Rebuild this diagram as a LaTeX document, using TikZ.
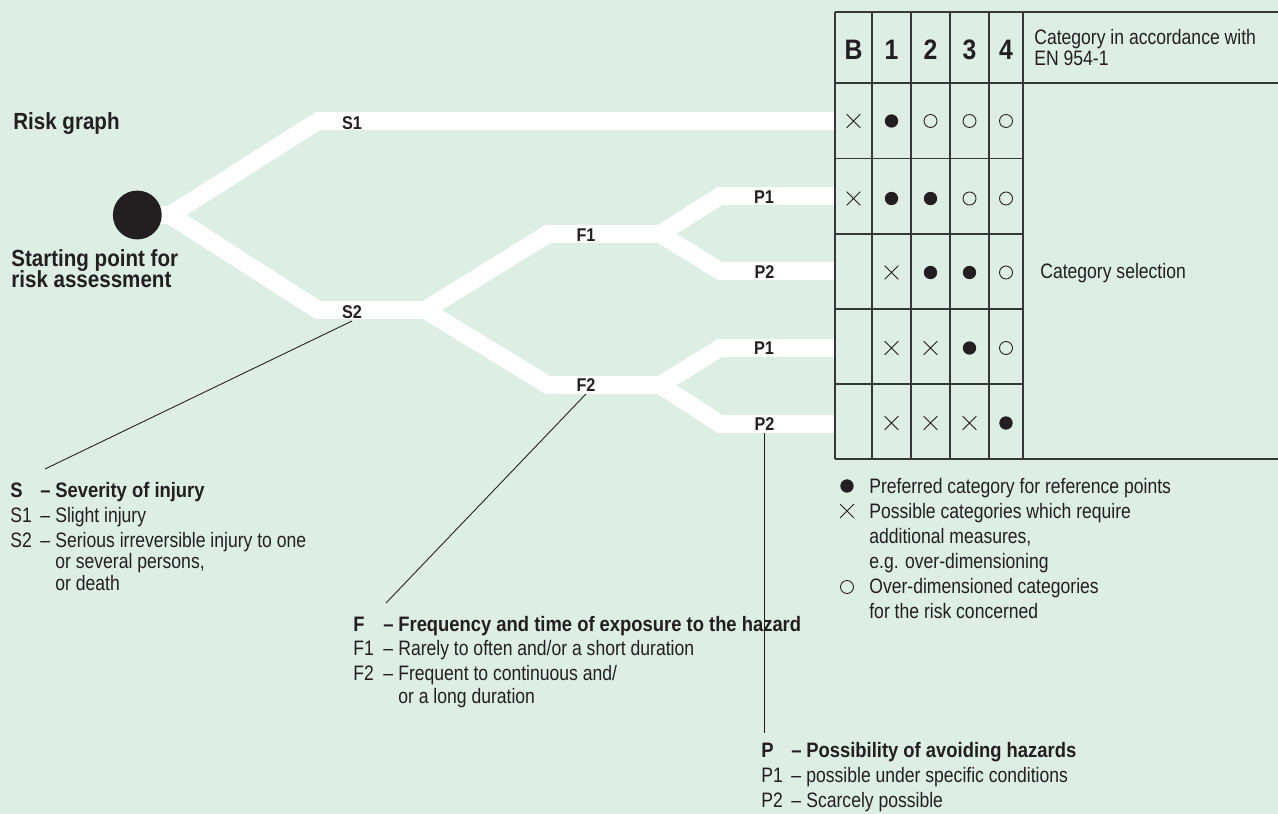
\documentclass[tikz,border=0pt]{standalone}
\usepackage{fontspec}
\setmainfont{Liberation Sans}[FakeStretch=0.84]
\newfontfamily\headfont{Liberation Sans}[FakeStretch=0.88]
\usetikzlibrary{shapes.misc,calc,positioning}
\definecolor{bgmint}{RGB}{221,238,229}
\definecolor{ink}{RGB}{35,31,32}
\definecolor{rule}{RGB}{55,55,55}

% one legend line: key, dash, text
\newcommand{\legline}[6]{%
  \node[#6] (#1k) at (#2,#3) {#4};
  \node[#6] (#1d) at ($(#1k.base west)+(30,0)$) {–};
  \node[#6] (#1) at ($(#1k.base west)+(45,0)$) {#5};
}

\begin{document}
\begin{tikzpicture}[x=0.02cm, y=-0.02cm,
    band/.style={draw=white, line width=10pt, line join=miter},
    brlbl/.style={font=\headfont\bfseries\fontsize{10.5}{12}\selectfont, text=ink, inner sep=1.2pt},
    legtxt/.style={font=\fontsize{11.9}{12.3}\selectfont, text=ink, inner sep=0pt, anchor=base west},
    leghead/.style={legtxt, font=\headfont\bfseries\fontsize{11.9}{12.3}\selectfont},
    bigtxt/.style={legtxt, font=\headfont\bfseries\fontsize{13.3}{14}\selectfont},
    colhead/.style={font=\headfont\bfseries\fontsize{16}{18}\selectfont, text=ink, inner sep=0pt, anchor=base},
    tabline/.style={draw=rule, line width=0.75pt},
    leader/.style={draw=ink, line width=0.5pt},
    catd/.style={circle, fill=ink, minimum size=7.6pt, inner sep=0pt},
    cato/.style={circle, draw=ink, line width=0.5pt, minimum size=7.4pt, inner sep=0pt},
    catx/.style={cross out, draw=ink, line width=0.55pt, minimum size=7.2pt, inner sep=0pt}]
  \fill[bgmint] (0,0) rectangle (1278,814);
  \useasboundingbox (0,0) rectangle (1278,814);

  % tree of the risk graph
  \coordinate (root) at (137.3,215);
  \coordinate (sp) at (170,215);
  \coordinate (s1k) at (318,121);
  \coordinate (s1e) at (835,121);
  \coordinate (s2k) at (318,310);
  \coordinate (s2s) at (425,310);
  \coordinate (f1k) at (548,234);
  \coordinate (f1s) at (660,234);
  \coordinate (f2k) at (548,385);
  \coordinate (f2s) at (660,385);
  \coordinate (p11k) at (720,196);
  \coordinate (p11e) at (835,196);
  \coordinate (p12k) at (720,271);
  \coordinate (p12e) at (835,271);
  \coordinate (p21k) at (720,348);
  \coordinate (p21e) at (835,348);
  \coordinate (p22k) at (720,424);
  \coordinate (p22e) at (835,424);
  \draw[band] (root) -- (sp) -- (s1k) -- (s1e);
  \draw[band] (root) -- (sp) -- (s2k) -- (s2s) -- (f1k) -- (f1s) -- (p11k) -- (p11e);
  \draw[band] (s2s) -- (f1k) -- (f1s) -- (p12k) -- (p12e);
  \draw[band] (sp) -- (s2k) -- (s2s) -- (f2k) -- (f2s) -- (p21k) -- (p21e);
  \draw[band] (f2k) -- (f2s) -- (p22k) -- (p22e);
  \node[circle, fill=ink, minimum size=27.8pt, inner sep=0pt] (start) at (root) {};

  \node[brlbl] (s1l) at (352,123) {S1};
  \node[brlbl] (s2l) at (352,312) {S2};
  \node[brlbl] (f1l) at (586,235) {F1};
  \node[brlbl] (f2l) at (586,385) {F2};
  \node[brlbl] (p11l) at (764,196.8) {P1};
  \node[brlbl] (p12l) at (764.5,272.5) {P2};
  \node[brlbl] (p21l) at (764,348.5) {P1};
  \node[brlbl] (p22l) at (764.5,424.2) {P2};

  \node[bigtxt] (title) at (13,129.3) {Risk graph};
  \node[bigtxt] (startA) at (11,266.7) {Starting point for};
  \node[bigtxt] (startB) at (11,288) {risk assessment};

  % category table
  \draw[tabline] (835,12) -- (1278,12);
  \draw[tabline] (835,83) -- (1278,83);
  \draw[tabline] (835,459) -- (1278,459);
  \draw[tabline] (835,12) -- (835,459);
  \foreach \x in {872,911,950,989,1023}
    \draw[tabline] (\x,12) -- (\x,459);
  \foreach \y in {158.5,234,309,384}
    \draw[tabline] (835,\y) -- (1023,\y);

  \foreach \n/\x/\t in {1/853.5/B,2/891.5/1,3/930.5/2,4/969.5/3,5/1006/4}
    \node[colhead] (col\n) at (\x,59.3) {\t};
  \foreach \r/\y in {1/121,2/198.5,3/272.5,4/348,5/423}
    \coordinate (row\r) at (835,\y);

  \foreach \c/\r/\s in {1/1/catx,2/1/catd,3/1/cato,4/1/cato,5/1/cato,
      1/2/catx,2/2/catd,3/2/catd,4/2/cato,5/2/cato,
      2/3/catx,3/3/catd,4/3/catd,5/3/cato,
      2/4/catx,3/4/catx,4/4/catd,5/4/cato,
      2/5/catx,3/5/catx,4/5/catx,5/5/catd}
    \node[\s] (m\c\r) at (col\c |- row\r) {};

  \node[legtxt] (stdA) at (1034,45) {Category in accordance with};
  \node[legtxt] (stdB) at (1034,65.5) {EN 954-1};
  \node[legtxt] (catsel) at (1040,278) {Category selection};

  % key to the symbols
  \node[catd] (keyd) at (847,486) {};
  \node[catx] (keyx) at (847,511) {};
  \node[cato] (keyo) at (847,587) {};
  \node[legtxt] (keydt) at (869,493.3) {Preferred category for reference points};
  \node[legtxt] (keyxt) at (869,518.3) {Possible categories which require};
  \node[legtxt] (keyxt2) at (869,543.3) {additional measures,};
  \node[legtxt] (keyxt3) at (869,568.3) {e.g. over-dimensioning};
  \node[legtxt] (keyot) at (869,593.3) {Over-dimensioned categories};
  \node[legtxt] (keyot2) at (869,618.3) {for the risk concerned};

  % parameter legends
  \legline{legs}{10}{497}{S}{Severity of injury}{leghead}
  \legline{legsa}{10}{522}{S1}{Slight injury}{legtxt}
  \legline{legsb}{10}{547}{S2}{Serious irreversible injury to one}{legtxt}
  \node[legtxt] (legsb2) at (55,568.3) {or several persons,};
  \node[legtxt] (legsb3) at (55,590) {or death};

  \legline{legf}{353}{631}{F}{Frequency and time of exposure to the hazard}{leghead}
  \legline{legfa}{353}{655.5}{F1}{Rarely to often and/or a short duration}{legtxt}
  \legline{legfb}{353}{680}{F2}{Frequent to continuous and/}{legtxt}
  \node[legtxt] (legfb2) at (398,703.3) {or a long duration};

  \legline{legp}{761}{757}{P}{Possibility of avoiding hazards}{leghead}
  \legline{legpa}{761}{782}{P1}{possible under specific conditions}{legtxt}
  \legline{legpb}{761}{807.5}{P2}{Scarcely possible}{legtxt}

  % leaders from the branches to their legends
  \coordinate (sleg) at (45,469);
  \coordinate (fleg) at (386,603);
  \coordinate (pleg) at (765,733);
  \draw[leader] (s2l.south) -- (sleg);
  \draw[leader] (f2l.south) -- (fleg);
  \draw[leader] (p22l.south) -- (p22l.south |- pleg);
\end{tikzpicture}
\end{document}
